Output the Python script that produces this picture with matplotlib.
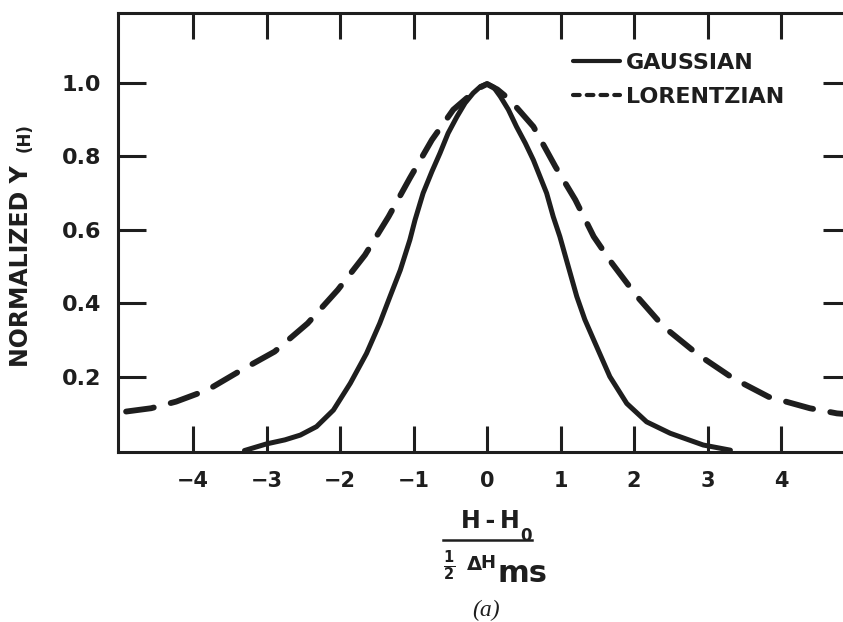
import matplotlib
matplotlib.use('Agg')
import matplotlib.pyplot as plt
from matplotlib.lines import Line2D

# ---- data ----
gauss_x = [-3.30, -3.00, -2.75, -2.54, -2.32, -2.09, -1.86, -1.64, -1.46, -1.32,
           -1.18, -1.05, -0.98, -0.87, -0.75, -0.64, -0.53, -0.41, -0.30,
           -0.19, -0.09, 0.00, 0.09, 0.18, 0.29, 0.40, 0.52, 0.63, 0.72,
           0.81, 0.90, 0.99, 1.08, 1.22, 1.33, 1.45, 1.67, 1.90, 2.17, 2.49, 2.94, 3.31]
gauss_y = [0.000, 0.018, 0.029, 0.042, 0.065, 0.110, 0.183, 0.264, 0.346, 0.419,
           0.491, 0.573, 0.627, 0.700, 0.759, 0.809, 0.863, 0.908, 0.945,
           0.972, 0.990, 0.997, 0.988, 0.963, 0.927, 0.881, 0.836, 0.790, 0.745,
           0.700, 0.636, 0.582, 0.518, 0.419, 0.356, 0.301, 0.201, 0.128, 0.078, 0.047, 0.015, 0.001]

lor_x = [-4.91, -4.57, -4.23, -3.80, -3.34, -2.89, -2.44, -2.03, -1.66, -1.34,
         -1.05, -0.75, -0.46, -0.28, -0.12, 0.00, 0.14, 0.31, 0.63, 0.93,
         1.20, 1.45, 1.70, 2.04, 2.40, 2.875, 3.35, 3.83, 4.39, 4.76, 4.95]
lor_y = [0.106, 0.115, 0.133, 0.165, 0.219, 0.269, 0.346, 0.437, 0.532, 0.636,
         0.741, 0.845, 0.927, 0.958, 0.985, 0.997, 0.982, 0.954, 0.881, 0.772,
         0.682, 0.582, 0.509, 0.419, 0.337, 0.260, 0.196, 0.146, 0.115, 0.101, 0.098]

x_ticks = [-4, -3, -2, -1, 0, 1, 2, 3, 4]
x_tick_labels = ['\u22124', '\u22123', '\u22122', '\u22121', '0', '1', '2', '3', '4']
y_ticks = [0.2, 0.4, 0.6, 0.8, 1.0]
y_tick_labels = ['0.2', '0.4', '0.6', '0.8', '1.0']
series_labels = ['GAUSSIAN', 'LORENTZIAN']

# ---- style ----
plt.rcParams['font.family'] = ['DejaVu Sans']
plt.rcParams['font.weight'] = 'bold'
plt.rcParams['mathtext.fontset'] = 'custom'
plt.rcParams['mathtext.rm'] = 'DejaVu Sans:bold'
plt.rcParams['mathtext.it'] = 'DejaVu Sans:bold'
plt.rcParams['mathtext.bf'] = 'DejaVu Sans:bold'

ink = '#1e1e1e'
W, H = 843, 622
fig = plt.figure(figsize=(W / 100, H / 100), dpi=100)
ax = fig.add_axes([118 / W, 1 - 452 / H, (851 - 118) / W, (452 - 13) / H])
ax.set_xlim(-5.02, 4.95)
ax.set_ylim(-0.004, 1.19)

ax.plot(gauss_x, gauss_y, color=ink, lw=3.6,
        solid_capstyle='round', solid_joinstyle='round')
ax.plot(lor_x, lor_y, color=ink, lw=4.2, dashes=(4.8, 3.0),
        dash_capstyle='round', dash_joinstyle='round')

for s in ax.spines.values():
    s.set_linewidth(2.2)
    s.set_color(ink)

ax.set_xticks(x_ticks, x_tick_labels)
ax.set_yticks(y_ticks, y_tick_labels)
ax.tick_params(axis='x', direction='in', length=19, width=2.2, top=True, bottom=True,
               pad=14, labelsize=15, colors=ink)
ax.tick_params(axis='y', direction='in', length=20, width=2.2, left=True, right=True,
               pad=12, labelsize=16, colors=ink)

handles = [Line2D([], [], color=ink, lw=3.0, solid_capstyle='round'),
           Line2D([], [], color=ink, lw=3.0, dashes=(1.6, 1.7), dash_capstyle='round')]
leg = ax.legend(handles, series_labels, loc='upper left',
                bbox_to_anchor=(573 / W, 1 - 53 / H), bbox_transform=fig.transFigure,
                frameon=False, borderpad=0, borderaxespad=0, handlelength=2.1,
                handletextpad=0.3, labelspacing=0.62,
                prop={'weight': 'bold', 'size': 16})
for t in leg.get_texts():
    t.set_color(ink)

# ---- y label ----
fig.text(33 / W, 1 - 367 / H, 'NORMALIZED Y', rotation=90, ha='right', va='bottom',
         fontsize=17, color=ink)
fig.text(34 / W, 1 - 152 / H, '(H)', rotation=90, ha='right', va='bottom',
         fontsize=12, color=ink)

# ---- x label (fraction) ----
fig.text(461 / W, 1 - 521 / H, 'H\u2009-\u2009H', ha='left', va='center', fontsize=17, color=ink)
fig.text(520 / W, 1 - 536 / H, '0', ha='left', va='center', fontsize=12, color=ink)
fig.add_artist(Line2D([443 / W, 532 / W], [1 - 540 / H, 1 - 540 / H],
                      transform=fig.transFigure, color=ink, lw=1.8))
fig.text(449 / W, 1 - 566 / H, r'$\frac{1}{2}$', ha='center', va='center', fontsize=15, color=ink)
fig.text(474 / W, 1 - 565 / H, '\u0394', ha='center', va='center', fontsize=14, color=ink)
fig.text(488 / W, 1 - 563 / H, 'H', ha='center', va='center', fontsize=13, color=ink)
fig.text(498 / W, 1 - 573 / H, 'ms', ha='left', va='center', fontsize=22, color=ink)
fig.text(486 / W, 1 - 610 / H, '(a)', ha='center', va='center', fontsize=17,
         family='Liberation Serif', style='italic', weight='normal', color=ink)

fig.savefig('out.png', dpi=100, facecolor='white')
